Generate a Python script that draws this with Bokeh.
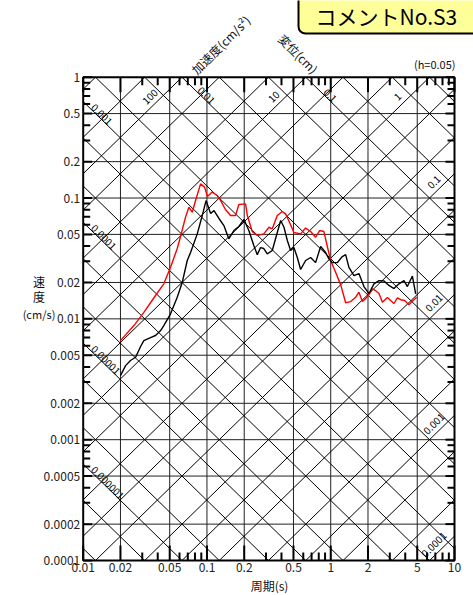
import math
from bokeh.plotting import figure
from bokeh.models import Range1d
from bokeh.core.properties import value
from bokeh.embed import file_html
from bokeh.resources import INLINE

FONT = "Noto Sans CJK JP"

# ---------------- data ----------------
x_ticks = [0.01, 0.02, 0.05, 0.1, 0.2, 0.5, 1, 2, 5, 10]
x_tick_labels = ["0.01", "0.02", "0.05", "0.1", "0.2", "0.5", "1", "2", "5", "10"]
x_minor = [0.03, 0.04, 0.06, 0.07, 0.08, 0.09, 0.3, 0.4, 0.6, 0.7, 0.8, 0.9,
           3, 4, 6, 7, 8, 9]
y_ticks = [0.0001, 0.0002, 0.0005, 0.001, 0.002, 0.005, 0.01, 0.02, 0.05, 0.1, 0.2, 0.5, 1]
y_tick_labels = ["0.0001", "0.0002", "0.0005", "0.001", "0.002", "0.005", "0.01",
                 "0.02", "0.05", "0.1", "0.2", "0.5", "1"]
y_minor = [0.0003, 0.0004, 0.0006, 0.0007, 0.0008, 0.0009,
           0.003, 0.004, 0.006, 0.007, 0.008, 0.009,
           0.03, 0.04, 0.06, 0.07, 0.08, 0.09,
           0.3, 0.4, 0.6, 0.7, 0.8, 0.9]

# diagonal reference lines (1-2-5 series)
acc_values = [m * 10.0 ** k for k in range(-5, 4) for m in (1, 2, 5)]    # cm/s^2
disp_values = [m * 10.0 ** k for k in range(-7, 1) for m in (1, 2, 5)]   # cm

acc_top_values = [100, 10, 1]
acc_top_text = ["100", "10", "1"]
acc_right_values = [0.1, 0.01, 0.001, 0.0001]
acc_right_text = ["0.1", "0.01", "0.001", "0.0001"]
disp_top_values = [0.01, 0.1]
disp_top_text = ["0.01", "0.1"]
disp_left_values = [0.001, 0.0001, 0.00001, 0.000001]
disp_left_text = ["0.001", "0.0001", "0.00001", "0.000001"]

# spectra (period s, velocity cm/s)
red_T = [0.0200, 0.0257, 0.0309, 0.0384, 0.0448, 0.0508, 0.0575, 0.0612, 0.0671, 0.0714,
         0.0761, 0.0809, 0.0888, 0.0956, 0.101, 0.110, 0.121, 0.129, 0.141, 0.155,
         0.170, 0.181, 0.205, 0.212, 0.232, 0.255, 0.288, 0.317, 0.337, 0.370,
         0.406, 0.432, 0.465, 0.504, 0.571, 0.627, 0.688, 0.755, 0.813, 0.881,
         0.939, 0.998, 1.095, 1.202, 1.320, 1.449, 1.590, 1.690, 1.801, 1.915,
         2.036, 2.169, 2.307, 2.453, 2.614, 2.869, 3.050, 3.243, 3.455, 3.674,
         3.957, 4.287, 4.567, 4.948]
red_V = [0.0066, 0.0088, 0.0113, 0.0156, 0.0195, 0.0267, 0.0382, 0.0480, 0.0694, 0.0839,
         0.0763, 0.0953, 0.131, 0.123, 0.103, 0.112, 0.105, 0.0953, 0.0803, 0.0716,
         0.0716, 0.0884, 0.0895, 0.0716, 0.0528, 0.0489, 0.0505, 0.0573, 0.0556, 0.0716,
         0.0773, 0.0740, 0.0627, 0.0518, 0.0505, 0.0564, 0.0528, 0.0474, 0.0538, 0.0528,
         0.0397, 0.0304, 0.0243, 0.0192, 0.0136, 0.0139, 0.0151, 0.0166, 0.0139, 0.0147,
         0.0159, 0.0177, 0.0171, 0.0162, 0.0137, 0.0150, 0.0142, 0.0134, 0.0149, 0.0144,
         0.0142, 0.0131, 0.0140, 0.0151]
black_T = [0.0200, 0.0220, 0.0241, 0.0265, 0.0291, 0.0309, 0.0350, 0.0384, 0.0422, 0.0448,
           0.0508, 0.0575, 0.0632, 0.0693, 0.0737, 0.0835, 0.0916, 0.0983, 0.107, 0.114,
           0.125, 0.137, 0.150, 0.165, 0.181, 0.199, 0.218, 0.239, 0.255, 0.271,
           0.288, 0.307, 0.337, 0.370, 0.394, 0.419, 0.446, 0.474, 0.504, 0.537,
           0.571, 0.627, 0.688, 0.755, 0.829, 0.909, 0.967, 1.030, 1.131, 1.241,
           1.320, 1.403, 1.540, 1.690, 1.855, 2.036, 2.235, 2.453, 2.693, 2.955,
           3.243, 3.560, 3.906, 4.160, 4.567, 4.857]
black_V = [0.00339, 0.00410, 0.00452, 0.00481, 0.00590, 0.00661, 0.00700, 0.00728, 0.00800, 0.00880,
           0.0110, 0.0151, 0.0201, 0.0304, 0.0354, 0.0505, 0.0716, 0.0953, 0.0744, 0.0788,
           0.0677, 0.0592, 0.0460, 0.0538, 0.0581, 0.0664, 0.0538, 0.0404, 0.0340, 0.0389,
           0.0382, 0.0345, 0.0368, 0.0518, 0.0651, 0.0573, 0.0445, 0.0368, 0.0389, 0.0322,
           0.0256, 0.0304, 0.0322, 0.0292, 0.0397, 0.0354, 0.0314, 0.0292, 0.0292, 0.0328,
           0.0340, 0.0267, 0.0228, 0.0237, 0.0185, 0.0162, 0.0195, 0.0207, 0.0206, 0.0189,
           0.0178, 0.0195, 0.0207, 0.0185, 0.0226, 0.0161]

# ---------------- layout (figure pixels) ----------------
W, H = 465, 595
BOX_L, BOX_R, BOX_T, BOX_B = 74.7, 446.0, 76.7, 560.0
T_MIN, T_MAX, V_MIN, V_MAX = 0.01, 10.0, 0.0001, 1.0
KX = (BOX_R - BOX_L) / (math.log10(T_MAX) - math.log10(T_MIN))
KY = (BOX_B - BOX_T) / (math.log10(V_MAX) - math.log10(V_MIN))


def T_at(px):
    return 10 ** (math.log10(T_MIN) + (px - BOX_L) / KX)


def V_at(py):
    return 10 ** (math.log10(V_MAX) - (py - BOX_T) / KY)


TWO_PI = 2 * math.pi

p = figure(width=W, height=H, x_axis_type="log", y_axis_type="log",
           x_range=Range1d(T_at(0), T_at(W)), y_range=Range1d(V_at(H), V_at(0)),
           min_border=0, min_border_left=0, min_border_right=0,
           min_border_top=0, min_border_bottom=0,
           x_axis_location=None, y_axis_location=None,
           output_backend="svg", toolbar_location=None)
p.styles = {"position": "absolute", "top": "0px", "left": "8px"}
p.title.visible = False
p.outline_line_color = None
p.background_fill_color = "white"
p.border_fill_color = "white"
p.grid.visible = False

# grid lines (1-2-5)
gx = [t for t in x_ticks[1:-1]]
p.segment(x0=gx, y0=[V_MIN] * len(gx), x1=gx, y1=[V_MAX] * len(gx),
          line_color="#222222", line_width=1)
gy = [v for v in y_ticks[1:-1]]
p.segment(x0=[T_MIN] * len(gy), y0=gy, x1=[T_MAX] * len(gy), y1=gy,
          line_color="#222222", line_width=1)

# diagonal lines clipped to the chart box
lt0, lt1 = math.log10(T_MIN), math.log10(T_MAX)
lv0, lv1 = math.log10(V_MIN), math.log10(V_MAX)
dx0, dy0, dx1, dy1 = [], [], [], []
for a in acc_values:            # log V = log T + c
    c = math.log10(a / TWO_PI)
    lo, hi = max(lt0, lv0 - c), min(lt1, lv1 - c)
    if hi > lo:
        dx0.append(10 ** lo); dy0.append(10 ** (lo + c))
        dx1.append(10 ** hi); dy1.append(10 ** (hi + c))
for d in disp_values:           # log V = -log T + c
    c = math.log10(TWO_PI * d)
    lo, hi = max(lt0, c - lv1), min(lt1, c - lv0)
    if hi > lo:
        dx0.append(10 ** lo); dy0.append(10 ** (c - lo))
        dx1.append(10 ** hi); dy1.append(10 ** (c - hi))
p.segment(x0=dx0, y0=dy0, x1=dx1, y1=dy1, line_color="black", line_width=1)

# spectra
p.line(red_T, red_V, line_color="#ff0000", line_width=1.4)
p.line(black_T, black_V, line_color="black", line_width=1.4)

# chart border
p.quad(left=[T_MIN], right=[T_MAX], bottom=[V_MIN], top=[V_MAX],
       fill_color=None, line_color="black", line_width=2)


# ticks (inward)
def fy(n):
    return 10 ** (n / KY)


def fx(n):
    return 10 ** (n / KX)


for ticks, ln in ((x_ticks, 15), (x_minor, 8)):
    p.segment(x0=ticks, y0=[V_MIN] * len(ticks), x1=ticks, y1=[V_MIN * fy(ln)] * len(ticks),
              line_color="black", line_width=2)
    p.segment(x0=ticks, y0=[V_MAX] * len(ticks), x1=ticks, y1=[V_MAX / fy(ln)] * len(ticks),
              line_color="black", line_width=2)
for ticks, ln in ((y_ticks, 9), (y_minor, 7)):
    p.segment(x0=[T_MIN] * len(ticks), y0=ticks, x1=[T_MIN * fx(ln)] * len(ticks), y1=ticks,
              line_color="black", line_width=2)
    p.segment(x0=[T_MAX] * len(ticks), y0=ticks, x1=[T_MAX / fx(ln)] * len(ticks), y1=ticks,
              line_color="black", line_width=2)

# tick labels
p.text(x=x_ticks, y=[V_MIN] * len(x_ticks), text=x_tick_labels, y_offset=2,
       text_font=value(FONT), text_font_size="12px", text_align="center",
       text_baseline="top", text_color="#222222")
p.text(x=[T_MIN] * len(y_ticks), y=y_ticks, text=y_tick_labels, x_offset=-3,
       text_font=value(FONT), text_font_size="12px", text_align="right",
       text_baseline="middle", text_color="#222222")

# diagonal value labels
lx, ly, lt, la, ldy = [], [], [], [], []
for a, s in zip(acc_top_values, acc_top_text):
    t = 0.55 * TWO_PI / a
    lx.append(t); ly.append(a * t / TWO_PI); lt.append(s); la.append(math.pi / 4); ldy.append(-12)
for a, s in zip(acc_right_values, acc_right_text):
    t = 6.8
    lx.append(t); ly.append(a * t / TWO_PI); lt.append(s); la.append(math.pi / 4); ldy.append(-12)
for d, s in zip(disp_top_values, disp_top_text):
    t = 1.58 * TWO_PI * d
    lx.append(t); ly.append(TWO_PI * d / t); lt.append(s); la.append(-math.pi / 4); ldy.append(-6)
p.text(x=lx, y=ly, text=lt, angle=la, y_offset=ldy,
       text_font=value(FONT), text_font_size="10px", text_align="center",
       text_baseline="middle", text_color="black")
t_left = T_at(BOX_L + 7)
p.text(x=[t_left] * len(disp_left_values), y=[TWO_PI * d / t_left for d in disp_left_values],
       text=disp_left_text, angle=-math.pi / 4, x_offset=3, y_offset=-3,
       text_font=value(FONT), text_font_size="10px", text_align="left",
       text_baseline="middle", text_color="black")


# titles and other texts (positions in figure pixels)
def txt(px, py, s, size, angle=0.0, align="center", color="#111111"):
    p.text(x=[T_at(px)], y=[V_at(py)], text=[s], angle=angle,
           text_font=value(FONT), text_font_size=size, text_align=align,
           text_baseline="middle", text_color=color)


txt(261, 585, "周期(s)", "12px")
txt(30.5, 281, "速", "12px")
txt(30.5, 296, "度", "12px")
txt(30.5, 313, "(cm/s)", "11px")
txt(447, 63, "(h=0.05)", "11px", align="right")
txt(212, 44, "加速度(cm/s²)", "12px", angle=math.pi / 4)
txt(290, 53, "変位(cm)", "12px", angle=-math.pi / 4)

# yellow comment box (runs off the top and right edges, as in the original)
p.quad(left=[T_at(290)], right=[T_at(W + 30)], bottom=[V_at(33)], top=[V_at(-30)],
       fill_color="#ffff99", line_color="black", line_width=2, border_radius=7)
txt(307, 15, "コメントNo.S3", "21px", align="left", color="black")

open("out.html", "w").write(file_html(p, INLINE))
